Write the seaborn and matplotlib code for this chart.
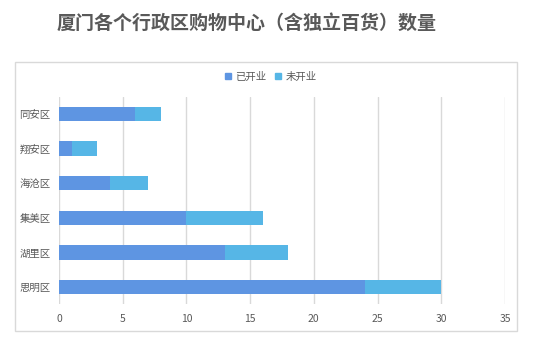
import matplotlib
matplotlib.use("Agg")
import matplotlib.pyplot as plt
import seaborn as sns
import pandas as pd
from matplotlib.patches import Rectangle
from matplotlib.lines import Line2D

districts = ["同安区", "翔安区", "海沧区", "集美区", "湖里区", "思明区"]
opened = [6, 1, 4, 10, 13, 24]
not_opened = [2, 2, 3, 6, 5, 6]
series_names = ["已开业", "未开业"]
x_ticks = [0, 5, 10, 15, 20, 25, 30, 35]

sns.set_theme(style="white")
plt.rcParams["font.family"] = ["Noto Sans CJK SC", "DejaVu Sans"]

df = pd.DataFrame({"district": districts, "opened": opened,
                   "total": [a + b for a, b in zip(opened, not_opened)]})

fig = plt.figure(figsize=(5.37, 3.41), dpi=100)
fig.patch.set_facecolor("white")
fig.patches.append(Rectangle((15 / 537, 1 - 331 / 341), 502 / 537, 269 / 341,
                             transform=fig.transFigure, fill=False,
                             edgecolor="#D9D9D9", linewidth=1.0))
ax = fig.add_axes([59 / 537, 1 - 304.3 / 341, 446 / 537, 207.6 / 341])

c_open = "#5E95E2"
c_not = "#56B6E6"
sns.barplot(data=df, y="district", x="total", color=c_not, orient="h",
            width=0.42, ax=ax, saturation=1, linewidth=0, zorder=3)
sns.barplot(data=df, y="district", x="opened", color=c_open, orient="h",
            width=0.42, ax=ax, saturation=1, linewidth=0, zorder=4)

ax.set_xlim(0, 35)
ax.set_xticks(x_ticks)
ax.set_ylim(5.5, -0.5)
ax.set_xlabel("")
ax.set_ylabel("")
for s in ax.spines.values():
    s.set_visible(False)
ax.grid(axis="x", color="#D9D9D9", linewidth=1.0, zorder=0)
ax.set_axisbelow(True)
ax.tick_params(axis="both", length=0, labelsize=7.5, labelcolor="#595959")
ax.tick_params(axis="x", pad=7)
ax.tick_params(axis="y", pad=6)

hs = [Line2D([], [], marker="s", linestyle="", markersize=5, color=c)
      for c in (c_open, c_not)]
fig.legend(hs, series_names, loc="center", bbox_to_anchor=(0.503, 1 - 77 / 341),
           ncol=2, frameon=False, fontsize=7.5, labelcolor="#595959",
           handlelength=0.8, handletextpad=0.3, columnspacing=0.8)

fig.text(57 / 537, 1 - 23 / 341, "厦门各个行政区购物中心（含独立百货）数量",
         fontsize=13.7, fontweight="bold", color="#595959", ha="left", va="center")

fig.savefig("out.png", dpi=100, facecolor="white")
